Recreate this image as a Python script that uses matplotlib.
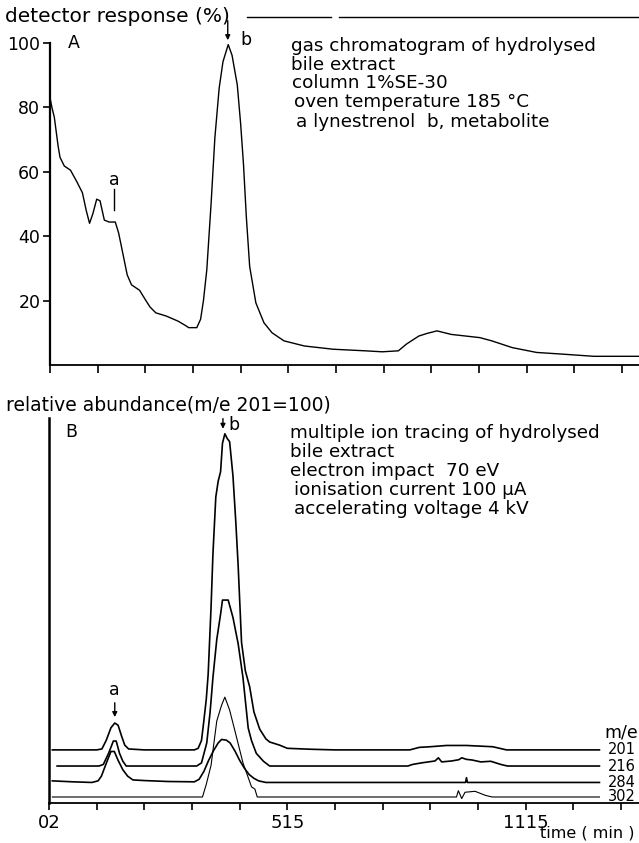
import matplotlib
matplotlib.use('Agg')
import matplotlib.pyplot as plt
from matplotlib.lines import Line2D

# panel A: gas chromatogram (detector response, %)
gc_time = [0.00, 0.04, 0.09, 0.17, 0.21, 0.30, 0.43, 0.56, 0.68, 0.76, 0.83, 0.90,
           0.98, 1.05, 1.14, 1.24, 1.37, 1.44, 1.50, 1.62, 1.71, 1.88, 2.00, 2.10,
           2.22, 2.44, 2.69, 2.85, 2.91, 3.08, 3.16, 3.22, 3.29, 3.38, 3.46, 3.55,
           3.63, 3.74, 3.82, 3.93, 4.00, 4.06, 4.12, 4.19, 4.32, 4.49, 4.66, 4.91,
           5.34, 5.94, 6.62, 6.97, 7.31, 7.48, 7.74, 7.91, 8.12, 8.42, 9.02, 9.27,
           9.70, 10.21, 10.73, 11.41, 12.36]
gc_resp = [83, 80, 77, 68, 64.5, 61.8, 60.5, 57, 53.5, 48, 44, 47,
           51.5, 51, 45, 44.4, 44.4, 41, 36.7, 28, 24.9, 23.2, 20.3, 18,
           16.2, 15.2, 13.6, 12.2, 11.6, 11.6, 14.2, 20, 29.5, 50, 70.6, 86,
           94.2, 99.5, 96.2, 87, 75, 62.4, 46, 30.6, 19.3, 13.1, 10, 7.5,
           5.9, 4.9, 4.4, 4.1, 4.4, 6.5, 9, 9.8, 10.6, 9.5, 8.5, 7.5,
           5.4, 3.9, 3.4, 2.7, 2.7]

# panel B: multiple ion traces (m/e), each drawn above its own baseline
t201 = [0.07, 1.00, 1.11, 1.20, 1.30, 1.38, 1.45, 1.52, 1.59, 1.67, 2.0, 3.05,
        3.13, 3.20, 3.24, 3.30, 3.34, 3.40, 3.44, 3.50, 3.55, 3.60, 3.64, 3.69,
        3.74, 3.79, 3.86, 3.92, 3.97, 4.04, 4.12, 4.21, 4.30, 4.42, 4.55, 4.63,
        4.84, 5.0, 5.5, 6.0, 7.57, 7.77, 8.0, 8.34, 8.76, 9.31, 9.6, 11.55]
i201 = [0, 0, 0.3, 3, 7, 8.5, 7.8, 4.5, 1.5, 0.3, 0, 0,
        0.5, 3, 8, 16, 24, 45, 62, 80, 85, 88, 97, 100,
        98.5, 97.5, 86.7, 72, 58, 34, 25, 20, 12, 6.6, 3.5, 2.5,
        1.5, 0.5, 0.2, 0, 0, 0.8, 1.0, 1.4, 1.4, 1.0, 0, 0]

t216 = [0.17, 1.05, 1.14, 1.25, 1.35, 1.41, 1.48, 1.55, 1.62, 3.10, 3.20, 3.31,
        3.38, 3.44, 3.52, 3.60, 3.64, 3.76, 3.86, 3.97, 4.07, 4.18, 4.25, 4.35,
        4.50, 4.63, 7.53, 7.63, 7.82, 8.10, 8.17, 8.24, 8.45, 8.60, 8.66, 8.76,
        8.88, 9.06, 9.27, 9.48, 9.62, 11.55]
i216 = [0, 0, 0.5, 4, 7.9, 7.9, 4, 1.5, 0, 0, 1, 7.3,
        17, 28, 40, 48, 52.5, 52.5, 47, 38.6, 28, 12, 8, 4,
        1.5, 0, 0, 0.5, 1.0, 1.6, 2.6, 1.3, 1.6, 2.0, 2.6, 2.1,
        1.9, 1.3, 1.5, 0.5, 0, 0]

t284 = [0.07, 0.5, 0.9, 1.03, 1.10, 1.20, 1.30, 1.37, 1.45, 1.55, 1.65, 1.76,
        2.0, 2.5, 3.05, 3.15, 3.25, 3.35, 3.45, 3.55, 3.62, 3.72, 3.80, 3.90,
        4.00, 4.10, 4.20, 4.30, 4.40, 4.55, 8.74, 8.76, 8.78, 11.55]
i284 = [0.5, 0.2, 0, 0.5, 2, 6, 9.8, 9.8, 7, 4, 2, 0.8,
        0.6, 0.3, 0.2, 1, 3.5, 7, 10, 12.5, 13.6, 13.4, 12.5, 10,
        7, 4.5, 2.5, 1.3, 0.5, 0, 0, 1.5, 0, 0]

t302 = [0.07, 3.22, 3.30, 3.40, 3.52, 3.62, 3.69, 3.79, 3.90, 4.07, 4.25, 4.32,
        4.37, 8.40, 8.55, 8.59, 8.66, 8.73, 8.94, 9.16, 9.30, 11.55]
i302 = [0, 0, 4, 10, 24, 29, 31.6, 27.5, 21, 10.8, 3.2, 2.5,
        0, 0, 0, 2, -0.5, 1.5, 1.8, 0.5, 0, 0]

ion_names = ['201', '216', '284', '302']
ion_base = [16.8, 11.7, 6.5, 1.9]

top_notes = ['gas chromatogram of hydrolysed', 'bile extract', 'column 1%SE-30',
             'oven temperature 185 \u00b0C', 'a lynestrenol  b, metabolite']
bottom_notes = ['multiple ion tracing of hydrolysed', 'bile extract',
                'electron impact  70 eV', 'ionisation current 100 \u00b5A',
                'accelerating voltage 4 kV']
time_labels = ['02', '', '', '', '', '515', '', '', '', '', '1115', '', '']

W, H = 639, 843
fig = plt.figure(figsize=(W / 100, H / 100), dpi=100)


def fx(px):
    return px / W


def fy(py):
    return 1 - py / H


# ---- panel A ----
ax1 = fig.add_axes([fx(50), fy(365), (W - 50) / W, (365 - 43) / H])
ax1.plot(gc_time, gc_resp, color='k', lw=1.0)
ax1.set_xlim(0, 12.36)
ax1.set_ylim(0, 100)
ax1.set_xticks(range(13))
ax1.set_xticklabels([])
ax1.set_yticks([20, 40, 60, 80, 100])
ax1.tick_params(direction='out', length=5, width=1.2, labelsize=12.5, pad=2)
ax1.tick_params(axis='x', length=6)
for s in ['top', 'right']:
    ax1.spines[s].set_visible(False)
ax1.spines['left'].set_linewidth(1.6)
ax1.spines['bottom'].set_linewidth(1.3)

ax1.text(0.38, 100, 'A', fontsize=12.5, va='center')
ax1.annotate('', xy=(3.73, 100), xytext=(3.73, 107.8),
             arrowprops=dict(arrowstyle='-|>', color='k', lw=1, mutation_scale=7),
             annotation_clip=False)
ax1.text(4.0, 101, 'b', fontsize=12.5, va='center')
ax1.text(1.34, 57.5, 'a', fontsize=12.5, va='center', ha='center')
ax1.plot([1.34, 1.34], [54.7, 48.1], color='k', lw=1)

fig.text(fx(5), fy(17), 'detector response (%)', fontsize=14.5, va='center')
fig.add_artist(Line2D([fx(247), fx(331)], [fy(17), fy(17)], color='k', lw=1))
fig.add_artist(Line2D([fx(339), fx(639)], [fy(17), fy(17)], color='k', lw=1))

top_xy = [(291, 46), (291, 65), (292, 83), (294, 102), (296, 122)]
for (px, py), s in zip(top_xy, top_notes):
    fig.text(fx(px), fy(py), s, fontsize=13.2, va='center')

# ---- panel B ----
ax2 = fig.add_axes([fx(49), fy(803), (W - 49) / W, (803 - 418) / H])
traces = [(t201, i201), (t216, i216), (t284, i284), (t302, i302)]
for (tt, ii), base, name in zip(traces, ion_base, ion_names):
    lw = 0.8 if name == '302' else 1.2
    ax2.plot(tt, [v + base for v in ii], color='k', lw=lw)
    ax2.text(11.72, base, name, fontsize=10.5, va='center', ha='left')
ax2.text(12.0, 22.2, 'm/e', fontsize=12.5, va='center', ha='center')

ax2.set_xlim(0, 12.38)
ax2.set_ylim(0, 121.8)
ax2.set_yticks([])
ax2.set_xticks(range(13))
ax2.set_xticklabels(time_labels)
ax2.tick_params(axis='x', direction='out', length=5, width=1.2, labelsize=13, pad=3)
for s in ['top', 'right']:
    ax2.spines[s].set_visible(False)
ax2.spines['left'].set_linewidth(1.8)
ax2.spines['bottom'].set_linewidth(1.3)

ax2.text(0.34, 117.4, 'B', fontsize=12.5, va='center')
ax2.annotate('', xy=(3.65, 117.5), xytext=(3.65, 122.5),
             arrowprops=dict(arrowstyle='-|>', color='k', lw=1, mutation_scale=7),
             annotation_clip=False)
ax2.text(3.76, 119.5, 'b', fontsize=12.5, va='center')
ax2.text(1.38, 35.8, 'a', fontsize=12.5, va='center', ha='center')
ax2.annotate('', xy=(1.38, 26.3), xytext=(1.38, 32.6),
             arrowprops=dict(arrowstyle='-|>', color='k', lw=1, mutation_scale=7))

fig.text(fx(6), fy(405), 'relative abundance(m/e 201=100)', fontsize=13.5, va='center')
bot_xy = [(290, 433), (290, 452), (290, 471), (294, 490), (294, 509)]
for (px, py), s in zip(bot_xy, bottom_notes):
    fig.text(fx(px), fy(py), s, fontsize=13.2, va='center')
fig.text(fx(635), fy(833), 'time ( min )', fontsize=11.5, va='center', ha='right')

fig.savefig('out.png', dpi=100)
